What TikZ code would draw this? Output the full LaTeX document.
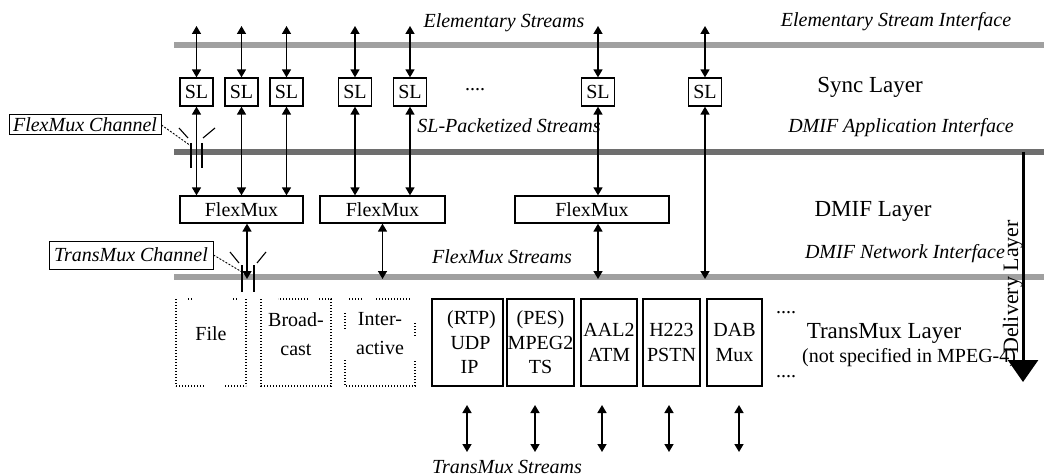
\documentclass[tikz,border=0pt]{standalone}
\usepackage{fontspec}
\setmainfont{Liberation Serif}
\usetikzlibrary{arrows.meta,calc}
\definecolor{barlight}{HTML}{A0A0A0}
\definecolor{bardark}{HTML}{6E6E6E}
\begin{document}
\begin{tikzpicture}[x=1pt,y=-1pt,
  rom/.style={font=\fontsize{20}{24}\selectfont},
  ita/.style={font=\fontsize{20}{24}\selectfont\itshape},
  big/.style={font=\fontsize{23}{27}\selectfont},
  box/.style={draw,line width=1.3pt,inner sep=0pt,align=center,rom},
  slbox/.style={box,minimum width=33pt,minimum height=28pt},
  fmbox/.style={box,minimum height=27pt},
  tmbox/.style={box,minimum height=87pt,font=\fontsize{20}{24.5}\selectfont},
  chbox/.style={draw,line width=1pt,inner sep=0pt,ita},
  dbl/.style={line width=1.6pt,{Triangle[length=8pt,width=9pt]}-{Triangle[length=8pt,width=9pt]}},
  leader/.style={line width=0.9pt,dash pattern=on 2pt off 1.5pt},
  tick/.style={line width=1.1pt},
  dotb/.style={line width=1.2pt,dash pattern=on 1.2pt off 1.8pt},
  bar/.style={line width=6pt}]
\useasboundingbox (0,0) rectangle (1044,476);
\fill[white] (0,0) rectangle (1044,476);
% interface bars
\coordinate (b1l) at (174,45);  \coordinate (b1r) at (1044,45);
\coordinate (b2l) at (174,152); \coordinate (b2r) at (1044,152);
\coordinate (b3l) at (174,277); \coordinate (b3r) at (1044,277);
\draw[bar,barlight] (b1l) -- (b1r);
\draw[bar,bardark] (b2l) -- (b2r);
\draw[bar,barlight] (b3l) -- (b3r);
% SL boxes and elementary streams
\foreach \i/\x in {1/196.5,2/241.5,3/286.5,4/355,5/410,6/598,7/705}{
  \node[slbox] (sl\i) at (\x,92) {SL};
  \coordinate (es\i) at (\x,26);
  \draw[dbl] (es\i) -- (sl\i.north);
}
% FlexMux boxes
\node[fmbox,minimum width=123pt] (fm1) at (241.5,209.5) {FlexMux};
\node[fmbox,minimum width=125pt] (fm2) at (382.5,209.5) {FlexMux};
\node[fmbox,minimum width=154pt] (fm3) at (592,209.5) {FlexMux};
\foreach \i/\f in {1/fm1,2/fm1,3/fm1,4/fm2,5/fm2,6/fm3}{
  \draw[dbl] (sl\i.south) -- (sl\i.south |- \f.north);
}
\coordinate (b7) at (705,279);
\draw[dbl] (sl7.south) -- (b7);
% FlexMux streams
\coordinate (fb1) at (247,279);
\coordinate (fb2) at (382.5,279);
\coordinate (fb3) at (598,279);
\draw[dbl] (fm1.south -| fb1) -- (fb1);
\draw[dbl] (fm2.south -| fb2) -- (fb2);
\draw[dbl] (fm3.south -| fb3) -- (fb3);
% FlexMux Channel
\node[chbox,minimum width=152pt,minimum height=20pt] (fmc) at (85,125) {FlexMux Channel};
\coordinate (fmcp) at (191,146);
\draw[leader] (fmc.east) -- (fmcp);
\draw[tick] (179,128) -- (188,138);
\draw[tick] (203,138) -- (215,128);
\draw[tick] (191,143) -- (191,168);
\draw[tick] (202,143) -- (202,168);
% TransMux Channel
\node[chbox,minimum width=164pt,minimum height=28pt] (tmc) at (131,255) {TransMux Channel};
\coordinate (tmcp) at (242,272);
\draw[leader] (tmc.east) -- (tmcp);
\draw[tick] (230,252) -- (239,263);
\draw[tick] (257,263) -- (266,252);
\draw[tick] (242,265) -- (242,292);
\draw[tick] (254,265) -- (254,292);
% dotted boxes
\draw[dotb] (176,299) -- (176,386);
\draw[dotb] (246,299) -- (246,386);
\draw[dotb] (188,299) -- (193,299);
\draw[dotb] (233,299) -- (238,299);
\draw[dotb] (176,386) -- (205,386);
\draw[dotb] (225,386) -- (246,386);
\node[rom] (filet) at (211,334) {File};
\draw[dotb] (261,299) -- (261,386) -- (331,386) -- (331,299) -- (318,299);
\draw[dotb] (308,299) -- (278,299);
\node[rom,align=center,font=\fontsize{20}{29}\selectfont] (bct) at (296,334) {Broad-\\cast};
\draw[dotb] (349,299) -- (362,299);
\draw[dotb] (376,299) -- (410,299);
\draw[dotb] (345,313) -- (345,330);
\draw[dotb] (345,360) -- (345,386) -- (415,386) -- (415,360);
\draw[dotb] (415,323) -- (415,337);
\node[rom,align=center,font=\fontsize{20}{29}\selectfont] (iat) at (380,334) {Inter-\\active};
% TransMux boxes
\node[tmbox,minimum width=71pt] (rtp) at (467.5,342.5) {\hspace*{8pt}(RTP)\\\hspace*{6pt}UDP\\\hspace*{4pt}IP};
\node[tmbox,minimum width=67pt] (pes) at (540.5,342.5) {(PES)\\MPEG2\\TS};
\node[tmbox,minimum width=56pt] (aal) at (609,342.5) {AAL2\\ATM};
\node[tmbox,minimum width=57pt] (h223) at (671.5,342.5) {H223\\PSTN};
\node[tmbox,minimum width=55pt] (dab) at (734.5,342.5) {DAB\\Mux};
% TransMux streams
\foreach \n/\x in {a/467,b/535,c/602,d/669,e/739}{
  \coordinate (ts\n1) at (\x,405);
  \coordinate (ts\n2) at (\x,452);
  \draw[dbl] (ts\n1) -- (ts\n2);
}
% dots
\node[rom,anchor=base] (d1) at (475,91) {....};
\node[rom,anchor=base] (d2) at (786,313) {....};
\node[rom,anchor=base] (d3) at (786,377) {....};
% labels
\node[ita,anchor=base] (l1) at (504,28) {Elementary Streams};
\node[ita,anchor=base] (l2) at (896,27) {Elementary Stream Interface};
\node[big,anchor=base] (l3) at (870,93) {Sync Layer};
\node[ita,anchor=base] (l4) at (509,132) {SL-Packetized Streams};
\node[ita,anchor=base] (l5) at (901,133) {DMIF Application Interface};
\node[big,anchor=base] (l6) at (873,216) {DMIF Layer};
\node[ita,anchor=base] (l7) at (905,258) {DMIF Network Interface};
\node[ita,anchor=base] (l8) at (502,263) {FlexMux Streams};
\node[big,anchor=base] (l9) at (884,338) {TransMux Layer};
\node[rom,anchor=base west,inner sep=0pt] (l10) at (802,362) {(not specified in MPEG-4)};
\node[ita,anchor=base] (l11) at (507,473) {TransMux Streams};
% delivery layer
\node[font=\fontsize{22}{26}\selectfont,rotate=90,anchor=base] (dl) at (1018,287) {Delivery Layer};
\coordinate (dlt) at (1023,152);
\coordinate (dlb) at (1023,382);
\draw[line width=3pt,-{Triangle[length=22pt,width=30pt]}] (dlt) -- (dlb);
\end{tikzpicture}
\end{document}
